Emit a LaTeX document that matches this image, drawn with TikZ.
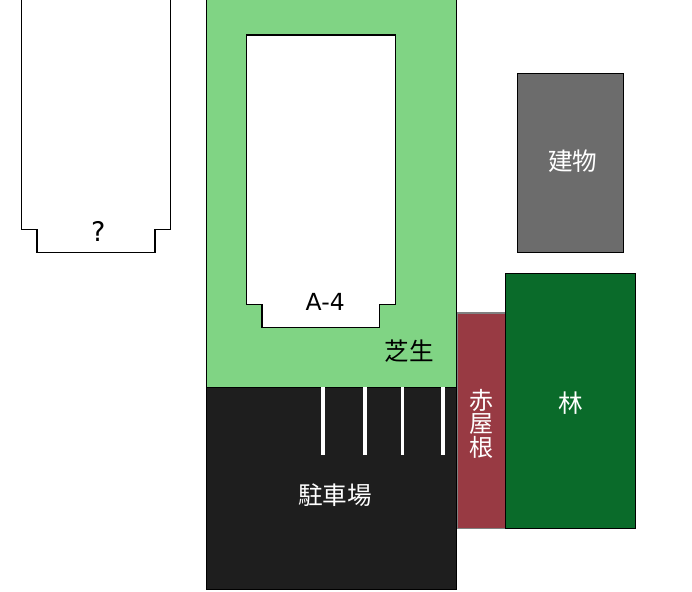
\documentclass[tikz,border=0pt]{standalone}
\usepackage{fontspec}
\setmainfont{DejaVu Sans}
\newfontfamily\cjk{Noto Sans CJK JP}
\tikzset{
  x=1pt,y=-1pt,
  outl/.style={draw=black,line width=1.3pt,line join=miter},
  lab/.style={inner sep=0pt,font=\fontsize{23.5}{24}\selectfont},
  cjklab/.style={inner sep=0pt,font=\cjk\fontsize{24.6}{26}\selectfont,align=center},
  stripe/.style={draw=white,line width=3.6pt}
}
\definecolor{lawn}{HTML}{80D484}
\definecolor{park}{HTML}{1E1E1E}
\definecolor{roof}{HTML}{983A43}
\definecolor{wood}{HTML}{0A6B2A}
\definecolor{bldg}{HTML}{6C6C6C}
\begin{document}
\begin{tikzpicture}
\useasboundingbox (0,0) rectangle (692,591);
% building with ?
\draw[outl] (21.2,-5) -- (21.2,229.5) -- (37,229.5) -- (37,252.5) -- (155,252.5) -- (155,229.5) -- (170.2,229.5) -- (170.2,-5);
% lawn
\fill[lawn] (206.5,-5) rectangle (456.5,387);
\draw[outl] (206.2,-5) -- (206.2,387);
\draw[outl] (456.7,-5) -- (456.7,387);
% parking
\draw[outl,fill=park] (206.2,387.3) rectangle (456.7,589.3);
\coordinate (s1a) at (322.8,387); \coordinate (s1b) at (322.8,455);
\coordinate (s2a) at (365,387); \coordinate (s2b) at (365,455);
\coordinate (s3a) at (402.6,387); \coordinate (s3b) at (402.6,455);
\coordinate (s4a) at (443,387); \coordinate (s4b) at (443,455);
\draw[stripe] (s1a) -- (s1b);
\draw[stripe] (s2a) -- (s2b);
\draw[stripe] (s3a) -- (s3b);
\draw[stripe] (s4a) -- (s4b);
% A-4
\draw[outl,fill=white] (246.2,35) -- (395.2,35) -- (395.2,304.2) -- (379.8,304.2) -- (379.8,327.3) -- (262,327.3) -- (262,304.2) -- (246.2,304.2) -- cycle;
% red roof
\draw[draw=black!50,line width=1.2pt,fill=roof] (457.8,313) rectangle (505.5,528.5);
% wood
\draw[outl,fill=wood] (505.5,273.5) rectangle (635.3,528.5);
% grey building
\draw[outl,fill=bldg] (517.5,73.5) rectangle (623.3,252.5);
% labels
\node[lab,font=\fontsize{27}{27}\selectfont] (q) at (98.2,231) {?};
\node[lab] (a4) at (325.2,301.5) {A-4};
\node[cjklab] (shiba) at (409.5,351) {芝生};
\node[cjklab,text=white] (chusha) at (335,495) {駐車場};
\node[cjklab,text=white] (tate) at (572.7,161) {建物};
\node[cjklab,text=white] (hayashi) at (571,403) {林};
\node[cjklab,text=white,font=\cjk\fontsize{24}{23.5}\selectfont] (aka) at (481.5,423.5) {赤\\屋\\根};
\end{tikzpicture}
\end{document}
